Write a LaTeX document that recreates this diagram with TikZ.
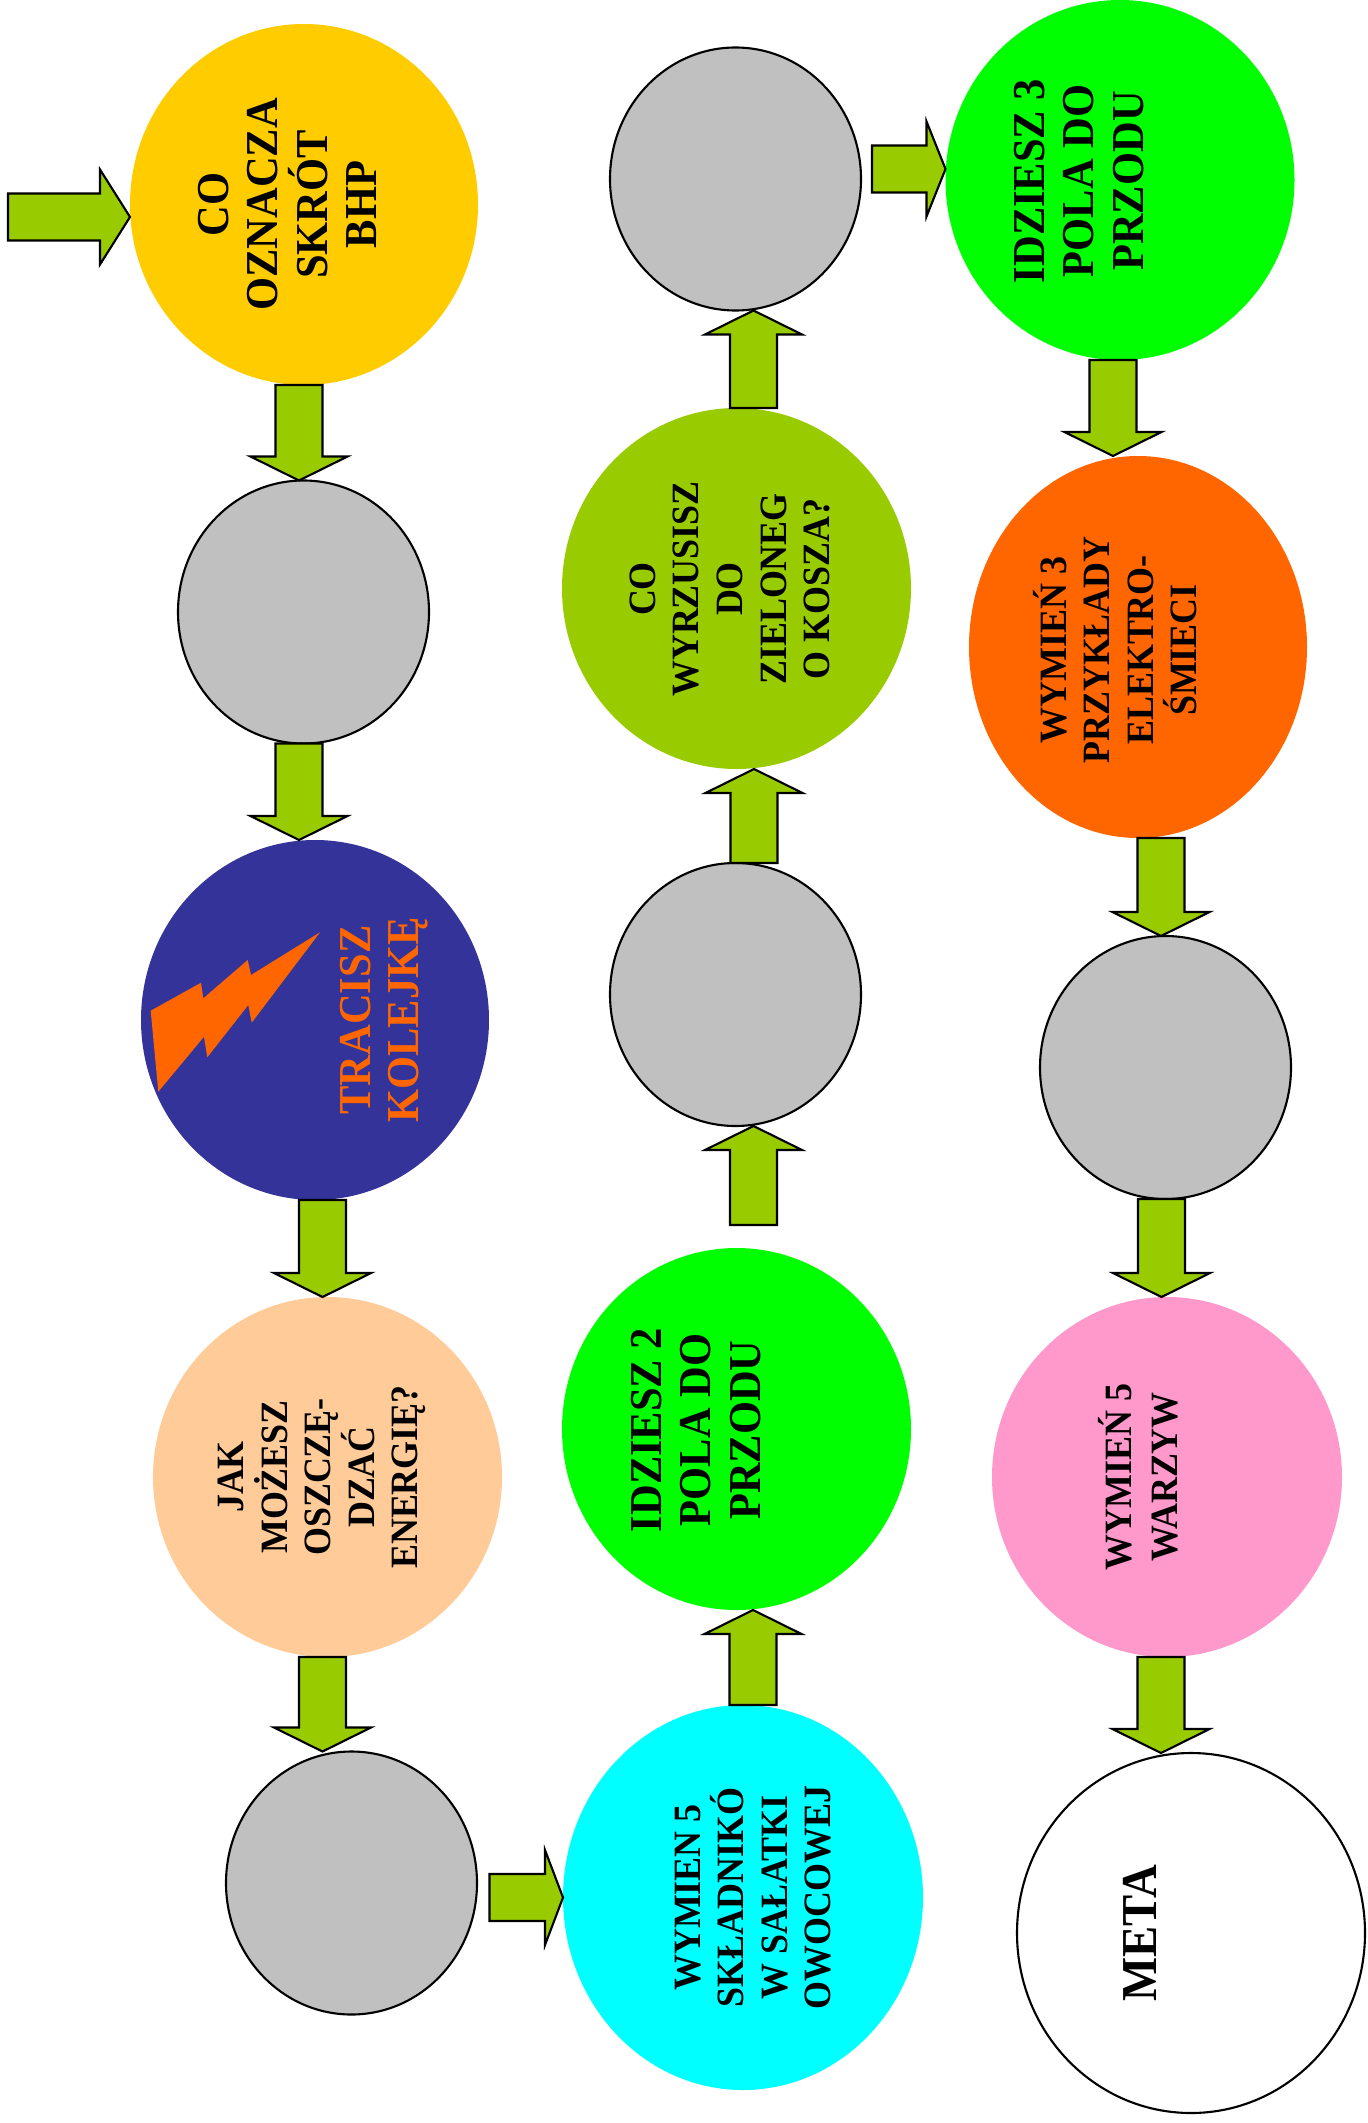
\documentclass[tikz,border=0pt]{standalone}
\usepackage{fontspec}
\setmainfont[FakeStretch=0.93]{Liberation Serif}
\usetikzlibrary{shapes.geometric,calc}
\definecolor{bhpyellow}{HTML}{FFCC00}
\definecolor{boltblue}{HTML}{333399}
\definecolor{boltorange}{HTML}{FF6600}
\definecolor{peach}{HTML}{FFCC99}
\definecolor{saladcyan}{HTML}{00FFFF}
\definecolor{gogreen}{HTML}{00FF00}
\definecolor{binlime}{HTML}{99CC00}
\definecolor{wastepink}{HTML}{FF99CC}
\definecolor{fieldgray}{HTML}{C0C0C0}
\definecolor{arrowlime}{HTML}{99CC00}
\tikzset{
  head len/.initial=2.4mm,
  field/.style={ellipse, inner sep=0pt, outer sep=0pt},
  sz/.style 2 args={minimum width=#1mm, minimum height=#2mm},
  blank/.style={field, draw, line width=0.6pt, fill=fieldgray, sz={25.1}{26.3}},
  bigtxt/.style={rotate=90, align=center, font=\bfseries\fontsize{13}{14.1}\selectfont},
  smalltxt/.style={rotate=90, align=center, font=\bfseries\fontsize{11}{12.4}\selectfont},
  varrow/.style={draw=black, line width=0.6pt, fill=arrowlime, line join=miter,
    to path={let \p1=(\tikztostart), \p2=(\tikztotarget), \p3=(\x2,\y1),
      \p4=($(\p2)!\pgfkeysvalueof{/tikz/head len}!(\p3)$) in
      ({\x3-2.35mm},\y3) -- ({\x4-2.35mm},\y4) -- ({\x4-4.85mm},\y4) -- (\p2)
      -- ({\x4+4.85mm},\y4) -- ({\x4+2.35mm},\y4) -- ({\x3+2.35mm},\y3) -- cycle}},
  harrow/.style={draw=black, line width=0.6pt, fill=arrowlime, line join=miter,
    to path={let \p1=(\tikztostart), \p2=(\tikztotarget), \p3=(\x1,\y2),
      \p4=($(\p2)!\pgfkeysvalueof{/tikz/head len}!(\p3)$) in
      (\x3,{\y3-2.35mm}) -- (\x4,{\y4-2.35mm}) -- (\x4,{\y4-4.75mm}) -- (\p2)
      -- (\x4,{\y4+4.75mm}) -- (\x4,{\y4+2.35mm}) -- (\x3,{\y3+2.35mm}) -- cycle}}
}
\begin{document}
\begin{tikzpicture}[x=0.1mm, y=-0.1mm]
  \fill[white] (0,0) rectangle (1367,2123);
  \useasboundingbox (0,0) rectangle (1367,2123);

  \node[field, fill=bhpyellow, sz={34.8}{36.1}] (yel) at (304,204.5) {};
  \node[blank] (gry1) at (303.5,612) {};
  \node[field, fill=boltblue, sz={34.8}{36}] (blu) at (315,1020) {};
  \node[field, fill=peach, sz={34.9}{36}] (pch) at (327.5,1477) {};
  \node[blank] (gry4) at (351.5,1883) {};
  \node[field, fill=saladcyan, sz={36}{38.5}] (cyn) at (743,1897.5) {};
  \node[field, fill=gogreen, sz={34.9}{36.2}] (grn2) at (736.5,1429) {};
  \node[blank] (gry2) at (735.5,994.5) {};
  \node[field, fill=binlime, sz={34.9}{36.1}] (yg) at (736.5,588.5) {};
  \node[blank] (gryt) at (735.5,179) {};
  \node[field, fill=gogreen, sz={34.9}{36}] (grn3) at (1120,180) {};
  \node[field, fill=boltorange, sz={33.8}{38.2}] (orn) at (1138,647) {};
  \node[blank] (gry3) at (1165.5,1067.5) {};
  \node[field, fill=wastepink, sz={35}{36}] (pnk) at (1167,1477) {};
  \node[field, draw, line width=0.6pt, fill=white, sz={34.8}{36}] (met) at (1191,1933) {};

  \fill[boltorange] (150.7,1010.7) -- (201,982.7) -- (203.3,998.3) -- (247.7,960)
    -- (251,975) -- (320,932.3) -- (251.7,1022.7) -- (248.3,1005) -- (207.3,1057.3)
    -- (204,1036.7) -- (158.3,1091.7) -- cycle;

  \node[bigtxt] at ($(yel)+(-16.5,0)$) {CO\\OZNACZA\\SKRÓT\\BHP};
  \node[bigtxt, text=boltorange, font=\bfseries\fontsize{13}{13.7}\selectfont] at ($(blu)+(69,0)$) {TRACISZ\\KOLEJKĘ};
  \node[smalltxt] at ($(pch)+(-5.5,0)$) {JAK\\MOŻESZ\\OSZCZĘ-\\DZAĆ\\ENERGIĘ?};
  \node[smalltxt] at ($(cyn)+(10,0)$) {WYMIEN 5\\SKŁADNIKÓ\\W SAŁATKI\\OWOCOWEJ};
  \node[bigtxt] at ($(grn2)+(-40.5,1)$) {IDZIESZ 2\\POLA DO\\PRZODU};
  \node[smalltxt] at ($(yg)+(-6.5,0.5)$) {CO\\WYRZUSISZ\\DO\\ZIELONEG\\O KOSZA?};
  \node[bigtxt] at ($(grn3)+(-41,1)$) {IDZIESZ 3\\POLA DO\\PRZODU};
  \node[smalltxt] at ($(orn)+(-23,3)$) {WYMIEŃ 3\\PRZYKŁADY\\ELEKTRO-\\ŚMIECI};
  \node[smalltxt, font=\bfseries\fontsize{11}{13.1}\selectfont] at ($(pnk)+(-29,0)$) {WYMIEŃ 5\\WARZYW};
  \node[bigtxt, font=\bfseries\fontsize{14.3}{15}\selectfont] at ($(met)+(-51,0)$) {META};

  \coordinate (start) at (8,217);
  \path[harrow, head len=3mm] (start) to ([yshift=-1.25mm]yel.west);
  \path[varrow] (yel.south) to ([xshift=-0.45mm]gry1.north);
  \path[varrow] (gry1.south) to ([xshift=-1.6mm]blu.north);
  \path[varrow] (blu.south) to ([xshift=-0.5mm]pch.north);
  \path[varrow] (pch.south) to ([xshift=-2.9mm]gry4.north);
  \path[harrow, head len=1.8mm] ([xshift=1.25mm]gry4.east) to (cyn.west);
  \path[varrow] (cyn.north) to ([xshift=1.65mm]grn2.south);
  \path[varrow] ([yshift=2.3mm]grn2.north) to ([xshift=1.8mm]gry2.south);
  \path[varrow] (gry2.north) to ([xshift=1.75mm]yg.south);
  \path[varrow] (yg.north) to ([xshift=1.8mm]gryt.south);
  \path[harrow, head len=1.9mm] ([xshift=1.1mm]gryt.east) to ([yshift=1.1mm]grn3.west);
  \path[varrow] (grn3.south) to ([xshift=-2.5mm]orn.north);
  \path[varrow] (orn.south) to ([xshift=-0.45mm]gry3.north);
  \path[varrow] (gry3.south) to ([xshift=-0.55mm]pnk.north);
  \path[varrow] (pnk.south) to ([xshift=-3mm]met.north);
\end{tikzpicture}
\end{document}
